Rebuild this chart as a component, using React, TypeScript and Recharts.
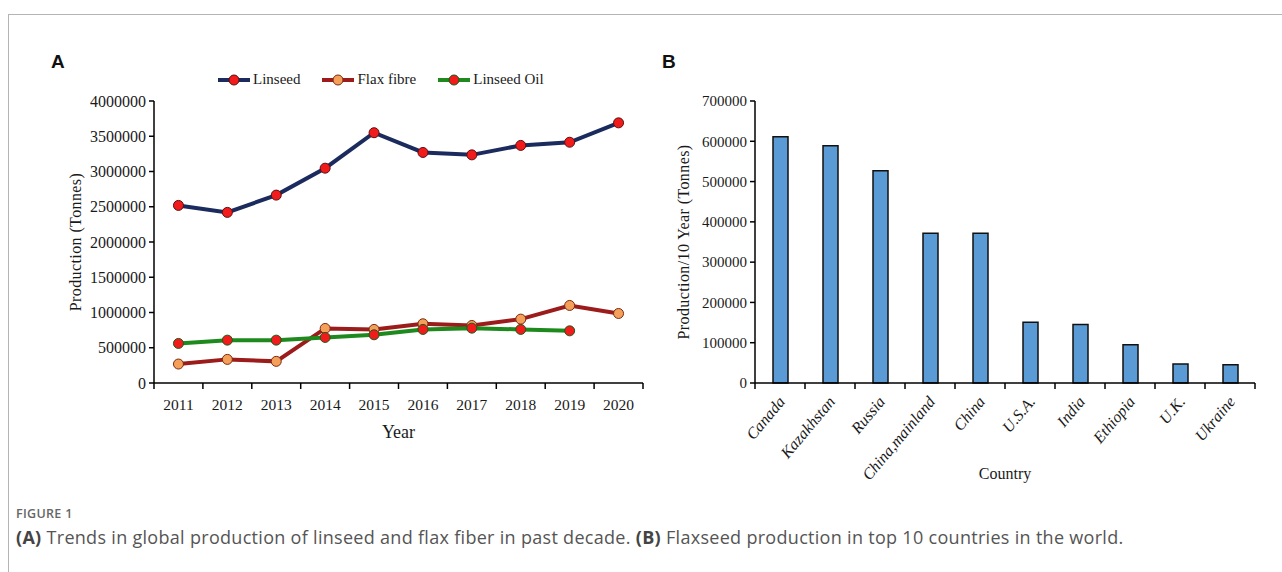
import React from "react";
import { Bar, BarChart, Line, LineChart, XAxis, YAxis } from "recharts";

const years = ["2011", "2012", "2013", "2014", "2015", "2016", "2017", "2018", "2019", "2020"];
const linseed = [2519000, 2420000, 2665000, 3047000, 3550000, 3270000, 3236000, 3370000, 3415000, 3690000];
const flaxFibre = [269000, 335000, 307000, 774000, 760000, 840000, 816000, 906000, 1100000, 986000];
const linseedOil = [561000, 608000, 608000, 646000, 684000, 760000, 778000, 760000, 740000, null];
const yTicksA = [0, 500000, 1000000, 1500000, 2000000, 2500000, 3000000, 3500000, 4000000];

const countries = [
  "Canada",
  "Kazakhstan",
  "Russia",
  "China,mainland",
  "China",
  "U.S.A.",
  "India",
  "Ethiopia",
  "U.K.",
  "Ukraine",
];
const production10y = [611000, 589000, 527000, 372000, 372000, 151000, 145000, 95000, 47000, 45000];
const yTicksB = [0, 100000, 200000, 300000, 400000, 500000, 600000, 700000];

const trendData = years.map((year, i) => ({
  year,
  linseed: linseed[i],
  flax: flaxFibre[i],
  oil: linseedOil[i],
}));

const countryData = countries.map((country, i) => ({
  country,
  value: production10y[i],
}));

const SERIF = "'Liberation Serif', 'Times New Roman', serif";
const SANS = "'Liberation Sans', Arial, sans-serif";
const INK = "#1a1a1a";

const seriesStyle = [
  { key: "linseed", name: "Linseed", stroke: "#1c2b5e", dot: "#f21b1b", dotStroke: "#5a1010" },
  { key: "flax", name: "Flax fibre", stroke: "#9c1b1b", dot: "#f5a05a", dotStroke: "#7a2a10" },
  { key: "oil", name: "Linseed Oil", stroke: "#1e8a1e", dot: "#f21b1b", dotStroke: "#1a5a1a" },
];

// left panel layout
const A_W = 660;
const A_H = 460;
const A_MARGIN = { top: 101, right: 17, bottom: 17, left: 0 };
const A_YAXIS_W = 154;
const A_HALF_BAND = (A_W - A_MARGIN.right - A_YAXIS_W) / years.length / 2;

// right panel layout
const B_W = 642;
const B_H = 500;
const B_MARGIN = { top: 101, right: 27, bottom: 17, left: 0 };
const B_YAXIS_W = 115;
const B_HALF_BAND = (B_W - B_MARGIN.right - B_YAXIS_W) / countries.length / 2;

// Excel-style category ticks: marks sit on band edges, labels in the middle.
function YearTick(props: any) {
  const { x, y, payload, index } = props;
  const half = payload?.offset || A_HALF_BAND;
  return (
    <g>
      <line x1={x - half} x2={x - half} y1={y - 8} y2={y - 2} stroke="#000" strokeWidth={1.5} />
      {index === years.length - 1 && (
        <line x1={x + half} x2={x + half} y1={y - 8} y2={y - 2} stroke="#000" strokeWidth={1.5} />
      )}
      <text x={x} y={y + 19} textAnchor="middle" fontFamily={SERIF} fontSize={15.5} fill={INK}>
        {payload.value}
      </text>
    </g>
  );
}

function CountryTick(props: any) {
  const { x, y, payload, index } = props;
  const half = payload?.offset || B_HALF_BAND;
  return (
    <g>
      <line x1={x - half} x2={x - half} y1={y - 8} y2={y - 2} stroke="#000" strokeWidth={1.5} />
      {index === countries.length - 1 && (
        <line x1={x + half} x2={x + half} y1={y - 8} y2={y - 2} stroke="#000" strokeWidth={1.5} />
      )}
      <text
        x={x + 6}
        y={y + 11}
        textAnchor="end"
        fontFamily={SERIF}
        fontStyle="italic"
        fontSize={16}
        fill={INK}
        transform={`rotate(-50 ${x + 6} ${y + 11})`}
      >
        {payload.value}
      </text>
    </g>
  );
}

function RotatedTitle({ viewBox, value, px }: any) {
  const cy = viewBox.y + viewBox.height / 2;
  return (
    <text
      x={px}
      y={cy}
      textAnchor="middle"
      dominantBaseline="central"
      fontFamily={SERIF}
      fontSize={16}
      letterSpacing={0.4}
      fill={INK}
      transform={`rotate(-90 ${px} ${cy})`}
    >
      {value}
    </text>
  );
}

function LegendIcon({ stroke, dot, dotStroke }: { stroke: string; dot: string; dotStroke: string }) {
  return (
    <svg width={34} height={14} style={{ display: "block" }}>
      <line x1={1} x2={33} y1={7} y2={7} stroke={stroke} strokeWidth={4} />
      <circle cx={17} cy={7} r={5} fill={dot} stroke={dotStroke} strokeWidth={1} />
    </svg>
  );
}

function TrendLegend() {
  return (
    <div
      style={{
        position: "absolute",
        left: 217,
        top: 71,
        display: "flex",
        alignItems: "center",
        whiteSpace: "nowrap",
      }}
    >
      {seriesStyle.map((s, i) => (
        <div
          key={s.key}
          style={{ display: "flex", alignItems: "center", marginLeft: i === 0 ? 0 : 21 }}
        >
          <LegendIcon stroke={s.stroke} dot={s.dot} dotStroke={s.dotStroke} />
          <span style={{ fontFamily: SERIF, fontSize: 15, color: INK, marginLeft: 2 }}>{s.name}</span>
        </div>
      ))}
    </div>
  );
}

export default function App() {
  return (
    <div
      style={{
        position: "absolute",
        left: 0,
        top: 0,
        width: 1282,
        height: 572,
        background: "#fff",
        overflow: "hidden",
      }}
    >
      <div
        style={{
          position: "absolute",
          left: 8,
          top: 14,
          width: 1300,
          height: 600,
          borderTop: "1px solid #b4b4b4",
          borderLeft: "1px solid #b4b4b4",
        }}
      />

      <div
        style={{
          position: "absolute",
          left: 51,
          top: 51,
          fontFamily: SANS,
          fontWeight: 700,
          fontSize: 19,
          color: "#111",
        }}
      >
        A
      </div>
      <div
        style={{
          position: "absolute",
          left: 662,
          top: 51,
          fontFamily: SANS,
          fontWeight: 700,
          fontSize: 19,
          color: "#111",
        }}
      >
        B
      </div>

      <div style={{ position: "absolute", left: 0, top: 0 }}>
        <LineChart width={A_W} height={A_H} data={trendData} margin={A_MARGIN}>
          <XAxis
            dataKey="year"
            scale="band"
            height={60}
            axisLine={{ stroke: "#000", strokeWidth: 1.5 }}
            tickLine={false}
            tick={<YearTick />}
            interval={0}
            label={{
              value: "Year",
              position: "insideBottom",
              offset: 5,
              style: { fontFamily: SERIF, fontSize: 18, fill: INK },
            }}
          />
          <YAxis
            width={A_YAXIS_W}
            domain={[0, 4000000]}
            ticks={yTicksA}
            interval={0}
            axisLine={{ stroke: "#000", strokeWidth: 1.5 }}
            tickLine={{ stroke: "#000", strokeWidth: 1.5 }}
            tickSize={5}
            tickMargin={3}
            tick={{ fontFamily: SERIF, fontSize: 16, fill: INK }}
            label={<RotatedTitle value="Production (Tonnes)" px={75} />}
          />
          {seriesStyle.map((s) => (
            <Line
              key={s.key}
              type="linear"
              dataKey={s.key}
              name={s.name}
              stroke={s.stroke}
              strokeWidth={4}
              connectNulls={false}
              isAnimationActive={false}
              dot={{ r: 5, fill: s.dot, stroke: s.dotStroke, strokeWidth: 1 }}
              activeDot={false}
            />
          ))}
        </LineChart>
        <TrendLegend />
      </div>

      <div style={{ position: "absolute", left: 640, top: 0 }}>
        <BarChart width={B_W} height={B_H} data={countryData} margin={B_MARGIN}>
          <XAxis
            dataKey="country"
            height={100}
            axisLine={{ stroke: "#000", strokeWidth: 1.5 }}
            tickLine={false}
            tick={<CountryTick />}
            interval={0}
            label={{
              value: "Country",
              position: "insideBottom",
              offset: 4,
              style: { fontFamily: SERIF, fontSize: 16, fill: INK },
            }}
          />
          <YAxis
            width={B_YAXIS_W}
            domain={[0, 700000]}
            ticks={yTicksB}
            interval={0}
            axisLine={{ stroke: "#000", strokeWidth: 1.5 }}
            tickLine={{ stroke: "#000", strokeWidth: 1.5 }}
            tickSize={5}
            tickMargin={3}
            tick={{ fontFamily: SERIF, fontSize: 15, fill: INK }}
            label={<RotatedTitle value="Production/10 Year (Tonnes)" px={43} />}
          />
          <Bar
            dataKey="value"
            fill="#5b9bd5"
            stroke="#111"
            strokeWidth={1.5}
            barSize={15}
            isAnimationActive={false}
          />
        </BarChart>
      </div>

      <div
        style={{
          position: "absolute",
          left: 16,
          top: 505,
          fontFamily: "'Open Sans', sans-serif",
          fontWeight: 600,
          fontSize: 12.5,
          color: "#666",
          letterSpacing: 0.3,
        }}
      >
        FIGURE 1
      </div>
      <div
        style={{
          position: "absolute",
          left: 16,
          top: 525,
          fontFamily: "'Open Sans', sans-serif",
          fontSize: 18,
          color: "#555",
          letterSpacing: 0.3,
          whiteSpace: "nowrap",
        }}
      >
        <b style={{ fontWeight: 700, color: "#444" }}>(A)</b> Trends in global production of linseed
        and flax fiber in past decade. <b style={{ fontWeight: 700, color: "#444" }}>(B)</b>{" "}
        Flaxseed production in top 10 countries in the world.
      </div>
    </div>
  );
}
